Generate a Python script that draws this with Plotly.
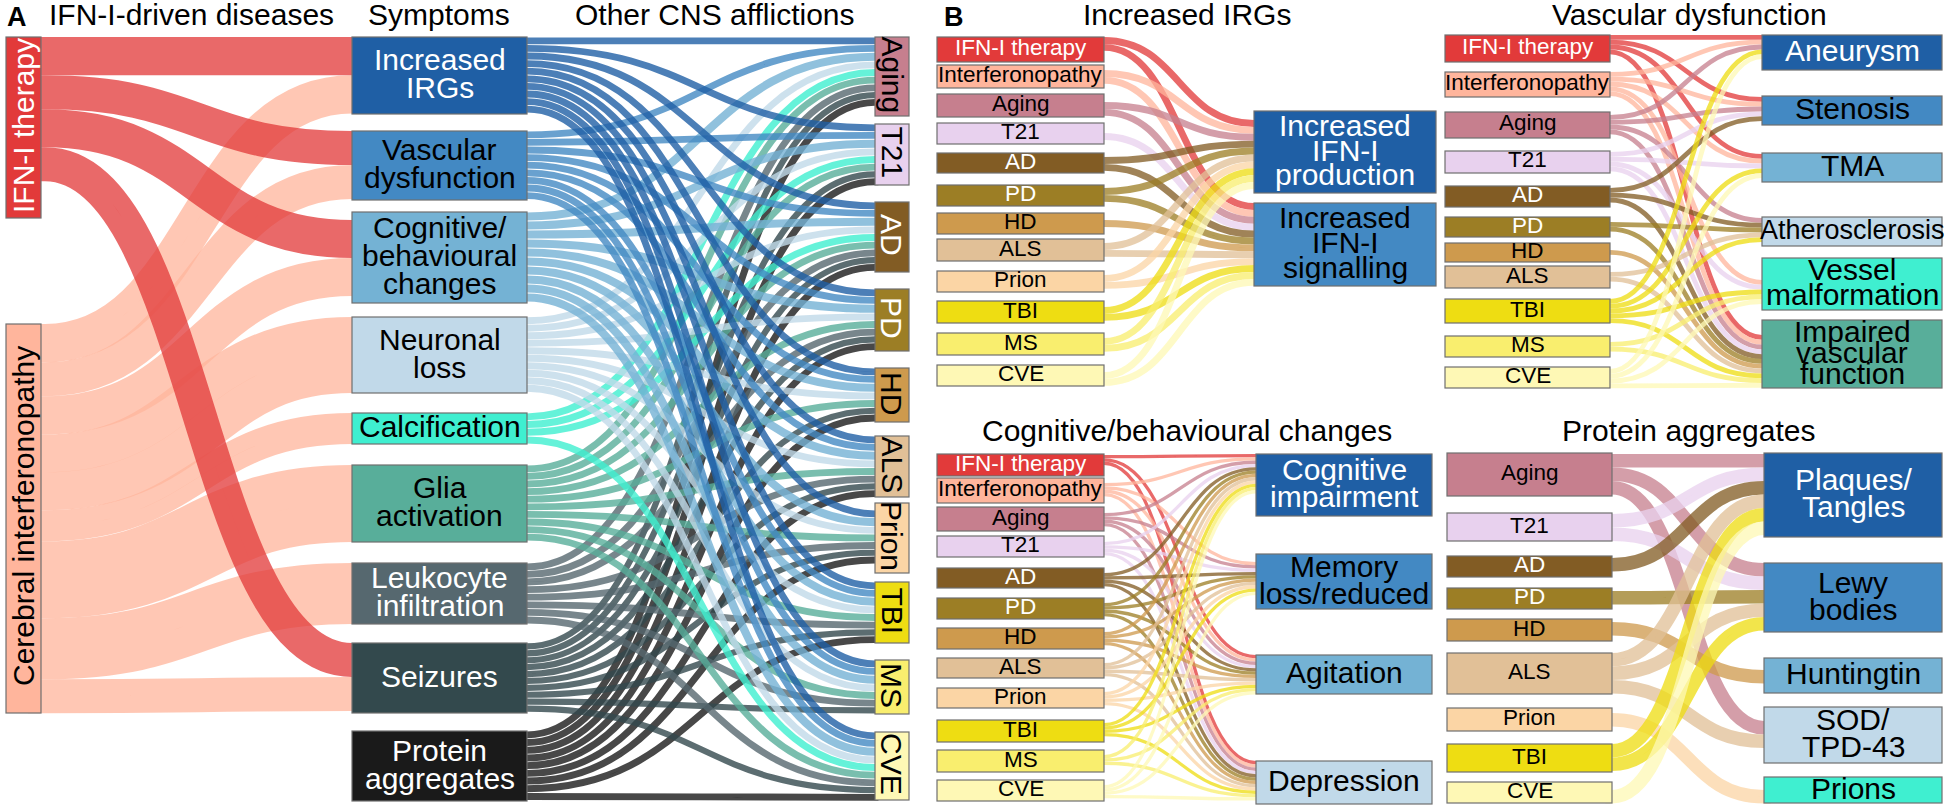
import plotly.graph_objects as go

W, H = 1949, 811
FONT = "Liberation Sans"

# ---------- colours ----------
DISEASE_COL = {"IFN": "#E23A3A", "INT": "#FFB59C", "Aging": "#C67F8E", "T21": "#E8D1EE", "AD": "#825C24",
               "PD": "#9C7E25", "HD": "#CE9A4D", "ALS": "#E1C097", "Prion": "#FBD5A5", "TBI": "#EEDD12",
               "MS": "#F9EE6E", "CVE": "#FEF8B5"}
SYMPTOM_COL = ["#1F5FA5", "#4389C3", "#74B2D4", "#C1D9E9", "#3FEFD0", "#58AE9A", "#56686F", "#33494D", "#1A1A1A"]

# ---------- panel A data (link widths) ----------
symptoms = ["Increased IRGs", "Vascular dysfunction", "Cognitive/ behavioural changes", "Neuronal loss", "Calcification",
            "Glia activation", "Leukocyte infiltration", "Seizures", "Protein aggregates"]
afflictions = ["Aging", "T21", "AD", "PD", "HD", "ALS", "Prion", "TBI", "MS", "CVE"]
ifn_to_symptom = [38.3, 34, 38, 0, 0, 0, 0, 34]
cerebral_to_symptom = [38.3, 34, 38, 76, 31, 77, 61, 34]
symptom_to_affliction = [
    [7.6, 7.6, 7.6, 7.6, 7.6, 7.6, 7.6, 7.6, 7.6, 7.6],
    [7.6, 7.6, 7.6, 7.6, 7.6, 7.6, 0, 7.6, 7.6, 7.6],
    [9, 9, 9, 9, 9, 9, 9, 9, 9, 9],
    [7.5, 7.5, 7.5, 7.5, 7.5, 7.5, 7.5, 7.5, 7.5, 7.5],
    [7.7, 7.7, 7.7, 0, 0, 0, 0, 0, 0, 7.7],
    [7.6, 7.6, 7.6, 7.6, 7.6, 7.6, 7.6, 7.6, 7.6, 7.6],
    [7.6, 0, 7.6, 7.6, 0, 7.6, 7.6, 7.6, 7.6, 7.6],
    [6.9, 6.9, 6.9, 6.9, 6.9, 6.9, 6.9, 6.9, 6.9, 6.9],
    [7.7, 7.7, 7.7, 7.7, 7.7, 7.7, 7.7, 7.7, 0, 7.7],
]

# ---------- panel B data ----------
irg_sources = ["IFN", "INT", "Aging", "T21", "AD", "PD", "HD", "ALS", "Prion", "TBI", "MS", "CVE"]
irg_links = [[6.9, 6.9], [6.9, 6.9], [6.9, 6.9], [0, 6.9], [6.9, 6.9], [6.9, 6.9], [0, 6.9], [6.9, 6.9], [6.9, 6.9],
             [6.9, 6.9], [6.9, 6.9], [6.9, 6.9]]

vasc_sources = ["IFN", "INT", "Aging", "T21", "AD", "PD", "HD", "ALS", "TBI", "MS", "CVE"]
vasc_links = [[4.8, 4.8, 4.8, 0, 0, 4.8], [4.8, 4.8, 4.8, 0, 4.8, 4.8], [4.8, 4.8, 0, 4.8, 0, 4.8],
              [0, 4.8, 4.8, 0, 4.8, 4.8], [0, 4.8, 0, 4.8, 0, 4.8], [0, 0, 0, 4.8, 0, 4.8], [0, 0, 0, 0, 0, 4.8],
              [0, 0, 0, 4.8, 0, 4.8], [4.8, 0, 4.8, 4.8, 4.8, 4.8], [0, 0, 0, 0, 4.8, 4.8], [4.8, 0, 4.8, 0, 4.8, 4.8]]

cog_sources = irg_sources
cog_links = [[3.3, 0, 3.3, 3.3], [3.3, 3.3, 3.3, 3.3], [3.3, 3.3, 3.3, 3.3], [3.3, 3.3, 3.3, 3.3], [3.3, 3.3, 3.3, 3.3],
             [3.3, 3.3, 3.3, 3.3], [3.3, 3.3, 3.3, 3.3], [3.3, 3.3, 3.3, 3.3], [3.3, 3.3, 3.3, 3.3], [3.3, 3.3, 3.3, 3.3],
             [3.3, 0, 3.3, 3.3], [3.3, 3.3, 3.3, 3.3]]

prot_sources = ["Aging", "T21", "AD", "PD", "HD", "ALS", "Prion", "TBI", "CVE"]
prot_links = [[13.5, 13.5, 0, 13.5, 0], [13.5, 13.5, 0, 0, 0], [13.5, 0, 0, 0, 0], [0, 13.5, 0, 0, 0], [0, 0, 13.5, 0, 0],
              [13.5, 13.5, 0, 13.5, 0], [0, 0, 0, 0, 13.5], [13.5, 13.5, 0, 0, 0], [13.5, 0, 0, 0, 0]]

DISEASE_LABEL = {"IFN": "IFN-I therapy", "INT": "Interferonopathy"}
WHITE_D = {"IFN", "AD", "PD"}
FILLER = 1e6


def rgba(hex_col, a):
    h = hex_col.lstrip("#")
    return f"rgba({int(h[:2],16)},{int(h[2:4],16)},{int(h[4:],16)},{a})"


def links_traces(matrix, src_cols, src_edge, tgt_edge, src_tops, tgt_tops, alpha, reverse=False, stroke=1.0):
    """Ribbons of constant perpendicular width: every link gets its own pair of nodes, stacked from the
    widths, and is painted by its outline. Outline colour and width are per trace, so links are grouped
    by colour and width; a large off-page filler keeps the ribbon's own body at about zero height."""
    ns, nt = len(matrix), len(matrix[0])
    s_y = list(src_tops)
    t_y = list(tgt_tops)
    entries = []
    for i in range(ns):
        for j in range(nt):
            v = matrix[i][j]
            if v:
                entries.append((i, j, v, s_y[i] + v / 2, t_y[j] + v / 2))
                s_y[i] += v
                t_y[j] += v
    if reverse:
        entries.reverse()
    groups = []
    for e in entries:
        key = (src_cols[e[0]], e[2])
        if groups and groups[-1][0] == key:
            groups[-1][1].append(e)
        else:
            groups.append((key, [e]))
    out = []
    for (hex_col, width), items in groups:
        col = rgba(hex_col, alpha)
        xs, ys, src, tgt, val = [], [], [], [], []
        for k, (i, j, v, ya, yb) in enumerate(items):
            xs += [(src_edge - 0.5) / W, (tgt_edge + 0.5) / W]
            ys += [ya / H, yb / H]
            src.append(2 * k)
            tgt.append(2 * k + 1)
            val.append(v)
        m = len(xs)
        xs += [1.6, 1.7]
        ys += [0.5, 0.5]
        src.append(m)
        tgt.append(m + 1)
        val.append(FILLER)
        out.append(go.Sankey(arrangement="fixed", domain=dict(x=[0, 1], y=[0, 1]), hoverinfo="skip",
                             node=dict(label=[""] * len(xs), x=xs, y=ys, thickness=1, pad=0,
                                       color="rgba(0,0,0,0)", line=dict(width=0), hoverinfo="skip"),
                             link=dict(source=src, target=tgt, value=val, color=col,
                                       line=dict(color=col, width=width * stroke), hoverinfo="skip")))
    return out


def strip(cols, x0, x1, tops, bottoms):
    """Column of visible boxes, drawn by Sankey with transparent links to hidden nodes off the page."""
    n = len(cols)
    hs = [b - t for t, b in zip(tops, bottoms)]
    filler = 660 - sum(hs)
    ys = [(t + h / 2) / H for t, h in zip(tops, hs)] + [0.5, 0.5]
    xs = [((x0 + x1) / 2) / W] * n + [1.6, 1.7]
    pad = (H - 660) / n
    return go.Sankey(arrangement="fixed", domain=dict(x=[0, 1], y=[0, 1]), hoverinfo="skip",
                     node=dict(label=[""] * (n + 2), x=xs, y=ys, thickness=x1 - x0, pad=pad,
                               color=list(cols) + ["rgba(0,0,0,0)"] * 2, line=dict(color="#6f6f6f", width=1.2),
                               hoverinfo="skip"),
                     link=dict(source=list(range(n + 1)), target=[n + 1] * (n + 1), value=hs + [filler],
                               color="rgba(0,0,0,0)", hoverinfo="skip"))


ann = []


def text(t, x, y, size=30, color="#000", angle=0, bold=False):
    ann.append(dict(text=f"<b>{t}</b>" if bold else t, x=x / W, y=1 - (y - 2) / H, xref="paper", yref="paper", showarrow=False,
                    xanchor="center", yanchor="middle", textangle=angle, font=dict(family=FONT, size=size, color=color)))


def labels(lines_list, colors, x0, x1, tops, bottoms, size=30, spacing=26, angle=0):
    for k, lines in enumerate(lines_list):
        cy = (tops[k] + bottoms[k]) / 2
        sp = spacing[k] if isinstance(spacing, list) else spacing
        for i, ln in enumerate(lines):
            text(ln, (x0 + x1) / 2, cy + (i - (len(lines) - 1) / 2) * sp, size, colors[k], angle)


traces = []

# ---------- panel A ----------
A_left = (6, 41)
A_mid = (352, 527)
A_right = (875, 909)
left_tops, left_bots = [37, 324], [218, 713]
mid_tops = [37, 131, 212, 317, 413, 465, 563, 643, 731]
mid_bots = [114, 200, 303, 393, 444, 542, 624, 713, 801]
mid_in_tops = [37, 131, 220, 317, 413, 465, 563, 643]
right_tops = [37, 124, 202, 289, 368, 436, 503, 582, 660, 732]
right_bots = [116, 185, 272, 351, 422, 497, 573, 643, 714, 800]
right_in_tops = [37, 124, 202, 289, 368, 436, 510, 582, 660, 732]
left_out_tops = [37, 324]

traces += links_traces([ifn_to_symptom, cerebral_to_symptom], [DISEASE_COL["IFN"], DISEASE_COL["INT"]],
                       A_left[1] + 4, A_mid[0], left_out_tops, mid_in_tops, 0.76, reverse=True)
traces += links_traces(symptom_to_affliction, SYMPTOM_COL, A_mid[1], A_right[0], mid_tops, right_in_tops, 0.8, reverse=True, stroke=0.9)
traces.append(strip([DISEASE_COL["IFN"], DISEASE_COL["INT"]], A_left[0], A_left[1], left_tops, left_bots))
traces.append(strip(SYMPTOM_COL, A_mid[0], A_mid[1], mid_tops, mid_bots))
traces.append(strip([DISEASE_COL[a] for a in afflictions], A_right[0], A_right[1], right_tops, right_bots))

labels([["IFN-I therapy"], ["Cerebral interferonopathy"]], ["#fff", "#000"], A_left[0], A_left[1], left_tops, left_bots, angle=-90)
labels([["Increased", "IRGs"], ["Vascular", "dysfunction"], ["Cognitive/", "behavioural", "changes"], ["Neuronal", "loss"],
        ["Calcification"], ["Glia", "activation"], ["Leukocyte", "infiltration"], ["Seizures"], ["Protein", "aggregates"]],
       ["#fff", "#000", "#000", "#000", "#000", "#000", "#fff", "#fff", "#fff"], A_mid[0], A_mid[1], mid_tops, mid_bots, spacing=28)
labels([[a] for a in afflictions], ["#fff" if a in WHITE_D else "#000" for a in afflictions], A_right[0], A_right[1],
       right_tops, right_bots, angle=90)

# ---------- panel B, four small Sankeys ----------
def panel(sources, matrix, src_x, tgt_x, s_tops, s_bots, s_link_tops, t_tops, t_bots, t_link_tops, t_cols, t_labels, t_text, t_spacing):
    cols = [DISEASE_COL[s] for s in sources]
    traces.extend(links_traces(matrix, cols, src_x[1], tgt_x[0], s_link_tops, t_link_tops, 0.76))
    traces.append(strip(cols, src_x[0], src_x[1], s_tops, s_bots))
    traces.append(strip(t_cols, tgt_x[0], tgt_x[1], t_tops, t_bots))
    labels([[DISEASE_LABEL.get(s, s)] for s in sources], ["#fff" if s in WHITE_D else "#000" for s in sources],
           src_x[0], src_x[1], s_tops, s_bots, size=22.5)
    labels(t_labels, t_text, tgt_x[0], tgt_x[1], t_tops, t_bots, spacing=t_spacing)


panel(irg_sources, irg_links, (937, 1104), (1254, 1436),
      [37, 65, 94, 123, 153, 185, 213, 239, 271, 301, 333, 365],
      [62, 88, 117, 144, 173, 206, 234, 261, 292, 323, 355, 386],
      [37, 70, 102, 133, 157, 188, 220, 243, 275, 307, 338, 372],
      [111, 203], [193, 286], [120, 203],
      SYMPTOM_COL[:2], [["Increased", "IFN-I", "production"], ["Increased", "IFN-I", "signalling"]], ["#fff", "#000"], 25)

panel(vasc_sources, vasc_links, (1445, 1610), (1762, 1942),
      [35, 72, 112, 151, 186, 217, 243, 266, 299, 336, 367],
      [62, 97, 138, 173, 207, 237, 262, 288, 323, 357, 388],
      [35, 72, 115, 152, 188, 222, 250, 272, 299, 342, 369],
      [35, 96, 153, 217, 258, 320], [70, 125, 182, 246, 310, 388], [35, 97, 154, 218, 280, 335],
      SYMPTOM_COL[:4] + [SYMPTOM_COL[4], SYMPTOM_COL[5]],
      [["Aneurysm"], ["Stenosis"], ["TMA"], ["Atherosclerosis"], ["Vessel", "malformation"], ["Impaired", "vascular", "function"]],
      ["#fff", "#000", "#000", "#000", "#000", "#000"], [26, 26, 26, 26, 25, 21])
# Atherosclerosis is set a little smaller in the reference
for a in ann:
    if a["text"] == "Atherosclerosis":
        a["font"]["size"] = 27

panel(cog_sources, cog_links, (937, 1104), (1256, 1432),
      [454, 478, 507, 536, 568, 598, 628, 658, 688, 720, 750, 780],
      [476, 503, 531, 557, 588, 619, 649, 678, 708, 742, 772, 801],
      [455, 483, 513, 542, 573, 603, 632, 663, 692, 723, 755, 785],
      [454, 554, 655, 761], [516, 609, 694, 804], [454, 562, 655, 761],
      SYMPTOM_COL[:4], [["Cognitive", "impairment"], ["Memory", "loss/reduced"], ["Agitation"], ["Depression"]],
      ["#fff", "#000", "#000", "#000"], 27)

panel(prot_sources, prot_links, (1447, 1612), (1764, 1942),
      [453, 513, 556, 588, 619, 653, 708, 744, 782],
      [496, 541, 577, 609, 641, 694, 731, 772, 803],
      [454, 514, 558, 591, 622, 653, 713, 744, 790],
      [453, 563, 658, 707, 777], [537, 632, 693, 763, 803], [454, 563, 670, 721, 790],
      SYMPTOM_COL[:4] + [SYMPTOM_COL[4]], [["Plaques/", "Tangles"], ["Lewy", "bodies"], ["Huntingtin"], ["SOD/", "TPD-43"], ["Prions"]],
      ["#fff", "#000", "#000", "#000", "#000"], 27)

# ---------- headings ----------
text("A", 17, 19, 27, bold=True)
text("B", 954, 19, 27, bold=True)
text("IFN-I-driven diseases", 191, 17)
text("Symptoms", 439, 17)
text("Other CNS afflictions", 715, 17)
text("Increased IRGs", 1187, 17)
text("Vascular dysfunction", 1689, 17)
text("Cognitive/behavioural changes", 1187, 433)
text("Protein aggregates", 1689, 433)

fig = go.Figure(data=traces)
fig.update_layout(width=W, height=H, autosize=False, margin=dict(l=0, r=0, t=0, b=0, pad=0), paper_bgcolor="#fff",
                  plot_bgcolor="#fff", showlegend=False, annotations=ann, font=dict(family=FONT))
fig.write_html("out.html", post_script="document.body.style.margin='0';document.documentElement.style.overflow='hidden';",
               config=dict(displayModeBar=False, responsive=False))
